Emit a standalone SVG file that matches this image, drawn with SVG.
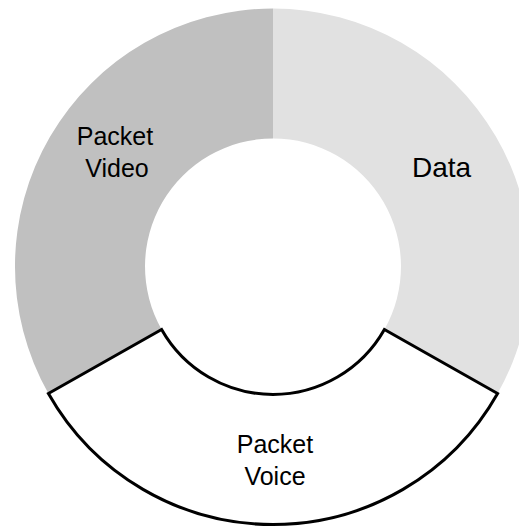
<svg xmlns="http://www.w3.org/2000/svg" width="519" height="527" viewBox="0 0 519 527">
<style>
.lbl{font-family:"Liberation Sans",Arial,sans-serif;fill:#000;text-anchor:middle}
.s{font-size:25px}
.l{font-size:28px}
</style>
<rect width="519" height="527" fill="#fff"/>
<g id="video">
<path d="M48.4 393.5 A258 258 0 0 1 273 8.5 L273 138.5 A128 128 0 0 0 161.6 329.5 Z" fill="#c0c0c0"/>
<text class="lbl s" x="115" y="145">Packet</text>
<text class="lbl s" x="117" y="177">Video</text>
</g>
<g id="data">
<path d="M273 8.5 A258 258 0 0 1 497.6 393.5 L384.4 329.5 A128 128 0 0 0 273 138.5 Z" fill="#e1e1e1"/>
<text class="lbl l" x="441.5" y="177">Data</text>
</g>
<g id="voice">
<path d="M497.6 393.5 A258 258 0 0 1 48.4 393.5 L161.6 329.5 A128 128 0 0 0 384.4 329.5 Z" fill="#fff" stroke="#000" stroke-width="3" stroke-linejoin="miter"/>
<text class="lbl s" x="275" y="453">Packet</text>
<text class="lbl s" x="275" y="485">Voice</text>
</g>
</svg>
